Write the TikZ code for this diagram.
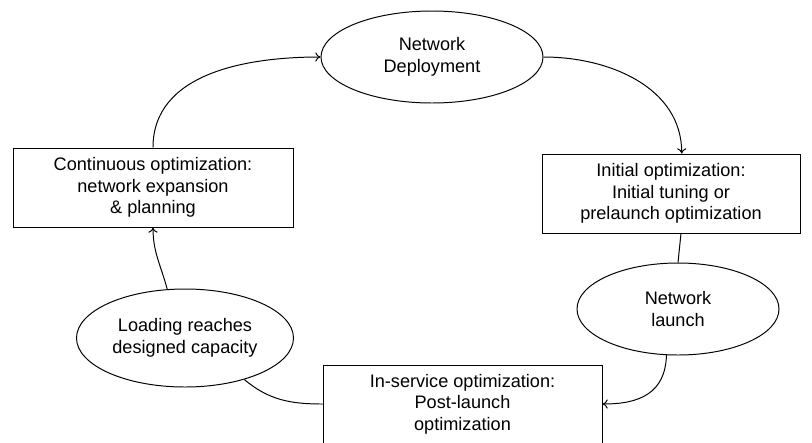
\documentclass[tikz,border=0pt]{standalone}
\usepackage{fontspec}
\setmainfont{Liberation Sans}
\usetikzlibrary{positioning,shapes.geometric,calc,arrows.meta}

\begin{document}
\begin{tikzpicture}[
		phase/.style={draw,rectangle,align=center,inner sep=0pt},
		event/.style={draw,ellipse,align=center,inner sep=0pt},
		> = {To[length=1.3mm,width=2.3mm]},
		line width=0.7pt,
		font=\fontsize{12.9}{15.3}\selectfont
		]
		\useasboundingbox (0,0) rectangle (20.3,-11.05);
		% the cycle
		\node[event,minimum width=5.55cm,minimum height=2.3cm] at (10.8,-1.425) (deploy) {Network\\Deployment};
		\node[phase,minimum width=6.45cm,minimum height=1.975cm] at (16.775,-4.8375) (init) {Initial optimization:\\Initial tuning or\\prelaunch optimization};
		\node[event,minimum width=5.05cm,minimum height=2.3cm] at (16.95,-7.725) (launch) {Network\\launch};
		\node[phase,minimum width=6.975cm,minimum height=1.95cm] at (11.5625,-10.1) (insvc) {In-service optimization:\\Post-launch\\optimization};
		\node[event,minimum width=5.425cm,minimum height=2.45cm] at (4.625,-8.45) (load) {Loading reaches\\designed capacity};
		\node[phase,minimum width=7cm,minimum height=1.975cm] at (3.825,-4.6875) (cont) {Continuous optimization:\\network expansion\\\& planning};
		% Draw the connectors
		\path[->]
		(cont.north) edge [out=90,in=180] (deploy.west)
		(deploy.east) edge [out=0,in=90] (init.75)
		(launch.-104) edge [out=-92,in=0,looseness=1.2] (insvc.east)
		(load.110) edge [out=105,in=-90] (cont.south);
		\path
		(init.-76) edge (launch.north)
		(insvc.west) edge [out=180,in=-40] (load.-35);
	\end{tikzpicture}
\end{document}
